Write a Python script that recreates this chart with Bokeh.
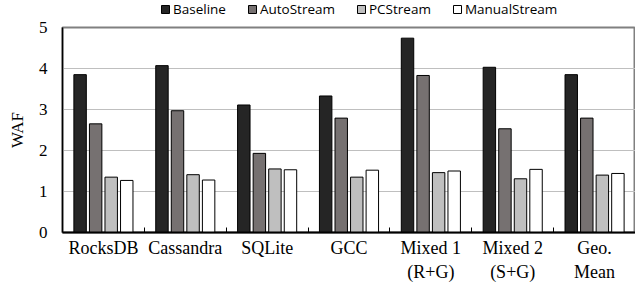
from bokeh.plotting import figure
from bokeh.models import (ColumnDataSource, Range1d, FixedTicker, Legend, LegendItem)
from bokeh.layouts import column
from bokeh.transform import dodge
from bokeh.embed import file_html
from bokeh.resources import INLINE
import numpy as np

categories = ["RocksDB", "Cassandra", "SQLite", "GCC", "Mixed 1\n(R+G)", "Mixed 2\n(S+G)", "Geo.\nMean"]
baseline = [3.85, 4.07, 3.11, 3.33, 4.74, 4.03, 3.85]
autostream = [2.65, 2.97, 1.93, 2.79, 3.83, 2.53, 2.79]
pcstream = [1.35, 1.41, 1.55, 1.35, 1.46, 1.31, 1.40]
manualstream = [1.27, 1.28, 1.53, 1.52, 1.50, 1.54, 1.44]
series_names = ["Baseline", "AutoStream", "PCStream", "ManualStream"]
y_ticks = [0, 1, 2, 3, 4, 5]

colors = ["#252525", "#767171", "#bfbfbf", "#ffffff"]
centers = list(np.arange(len(categories)) + 0.5)
offsets = [-0.285, -0.095, 0.095, 0.285]

src = ColumnDataSource(dict(x=centers, Baseline=baseline, AutoStream=autostream,
                            PCStream=pcstream, ManualStream=manualstream))

p = figure(width=635, height=267, output_backend="svg", toolbar_location=None,
           x_range=Range1d(0, len(categories)), y_range=Range1d(0, 5),
           min_border_left=62, min_border_right=0, min_border_top=9, min_border_bottom=53)

for name, off, c in zip(series_names, offsets, colors):
    p.vbar(x=dodge("x", off), top=name, width=0.152, source=src,
           fill_color=c, line_color="black", line_width=1)

# x axis
xa = p.xaxis[0]
xa.ticker = FixedTicker(ticks=centers, minor_ticks=list(range(1, len(categories))))
xa.major_label_overrides = {float(c): lab for c, lab in zip(centers, categories)}
xa.major_tick_in = 0
xa.major_tick_out = 0
xa.minor_tick_in = 5
xa.minor_tick_out = 0
xa.minor_tick_line_color = "black"
xa.axis_line_color = "black"
xa.axis_line_width = 2
xa.major_label_text_font = "Liberation Serif"
xa.major_label_text_font_size = "18px"
xa.major_label_text_color = "black"
xa.major_label_standoff = 5

# y axis
ya = p.yaxis[0]
ya.ticker = FixedTicker(ticks=y_ticks)
ya.major_tick_in = 0
ya.major_tick_out = 0
ya.minor_tick_line_color = None
ya.axis_line_color = "black"
ya.axis_line_width = 1.5
ya.major_label_text_font = "Liberation Serif"
ya.major_label_text_font_size = "17px"
ya.major_label_text_color = "black"
ya.major_label_standoff = 15
ya.axis_label = "WAF"
ya.axis_label_text_font = "Liberation Serif"
ya.axis_label_text_font_size = "17px"
ya.axis_label_text_font_style = "normal"
ya.axis_label_text_color = "black"
ya.axis_label_standoff = 9

p.xgrid.grid_line_color = None
p.ygrid.grid_line_color = "#bfbfbf"
p.ygrid.grid_line_width = 1
p.outline_line_color = "#808080"
p.outline_line_width = 2
p.background_fill_color = "white"
p.border_fill_color = "white"

# legend strip above the chart (bars here lie outside its visible range; only legend swatches show)
lg = figure(width=635, height=18, output_backend="svg", toolbar_location=None,
            x_axis_type=None, y_axis_type=None,
            x_range=Range1d(0, len(categories)), y_range=Range1d(100, 101),
            min_border_left=0, min_border_right=0, min_border_top=0, min_border_bottom=0)
lg.outline_line_color = None
lg.xgrid.grid_line_color = None
lg.ygrid.grid_line_color = None
items = []
for name, off, c in zip(series_names, offsets, colors):
    r = lg.vbar(x=dodge("x", off), top=name, width=0.152, source=src,
                fill_color=c, line_color="black", line_width=1)
    items.append(LegendItem(label=name, renderers=[r]))
legend = Legend(items=items, orientation="horizontal", location=(98, 0),
                label_text_font="Open Sans", label_text_font_size="13.5px",
                label_text_color="black", label_text_line_height=1.0,
                glyph_width=10, glyph_height=10, label_standoff=3, spacing=21,
                padding=0, margin=0, border_line_color=None, background_fill_alpha=0,
                label_height=12)
lg.add_layout(legend, "center")

layout = column(lg, p, spacing=0)
open("out.html", "w").write(file_html(layout, INLINE))
